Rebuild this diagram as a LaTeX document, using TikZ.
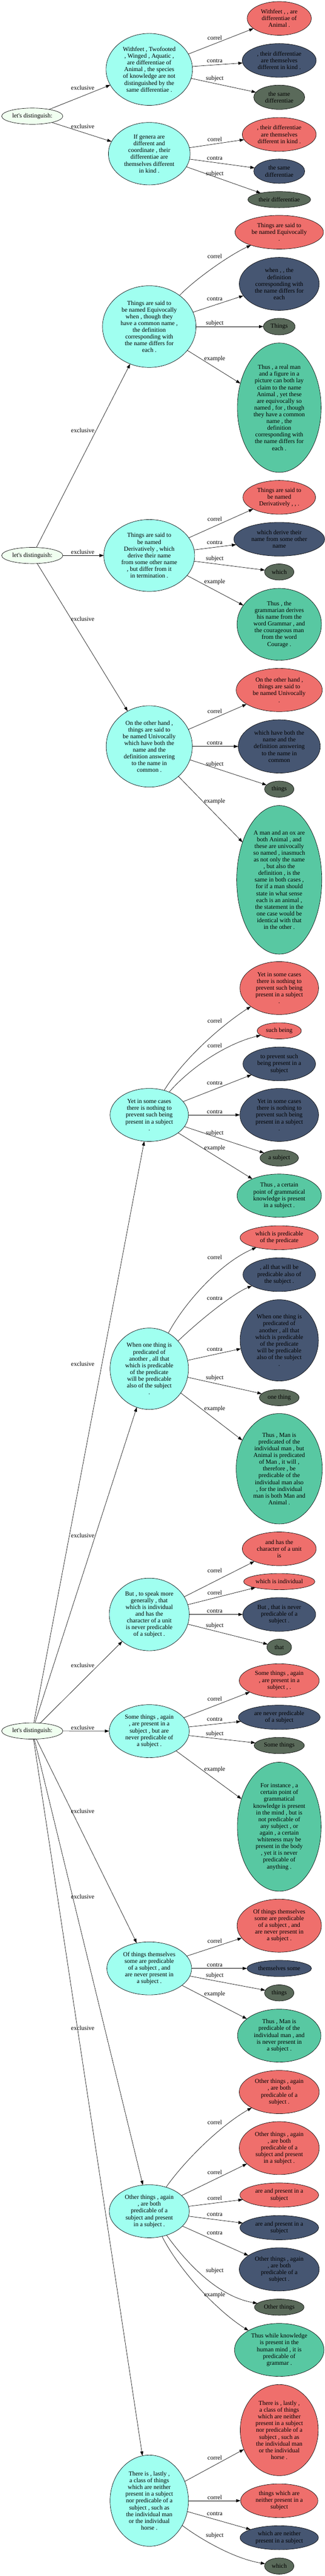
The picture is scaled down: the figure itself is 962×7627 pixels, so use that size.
\documentclass[tikz,border=0pt]{standalone}
\usepackage{fontspec}
\setmainfont{Liberation Serif}[Ligatures=TeXOff]
\usetikzlibrary{shapes.geometric,arrows.meta}
\definecolor{rootc}{HTML}{F0FFF0}
\definecolor{mainc}{HTML}{A0FFF0}
\definecolor{corrc}{HTML}{EF6F6C}
\definecolor{contrc}{HTML}{465672}
\definecolor{subjc}{HTML}{5A6A5A}
\definecolor{exmpc}{HTML}{58C8A2}
\newcommand{\nodefont}{\fontsize{18.3}{20}\selectfont}
\tikzset{
  base/.style={ellipse, draw=black, line width=1pt, inner sep=0pt, outer sep=0pt, align=center, font=\nodefont},
  rootn/.style={base, fill=rootc},
  mainn/.style={base, fill=mainc},
  corrn/.style={base, fill=corrc},
  contrn/.style={base, fill=contrc},
  subjn/.style={base, fill=subjc},
  exmpn/.style={base, fill=exmpc},
  wh/.style 2 args={minimum width=#1pt, minimum height=#2pt},
  edge/.style={draw=black, line width=1pt, -{Triangle[length=13pt,width=9pt]}},
  elab/.style={font=\nodefont, inner sep=0pt}
}
\begin{document}
\begin{tikzpicture}[x=1pt,y=-1pt]
\fill[white] (0,0) rectangle (962,7627);
\useasboundingbox (0,0) rectangle (962,7627);

% ---------------- Graph 1 ----------------
\node[rootn, wh={181}{48}] (root1) at (95.6,344) {let's distinguish:};
\node[mainn, wh={256}{213}] (A1) at (442,205.5) {Withfeet , Twofooted\\, Winged , Aquatic ,\\are differentiae of\\Animal , the species\\of knowledge are not\\distinguished by the\\same differentiae .};
\node[corrn, wh={190}{100}] (RA1) at (827,54.5) {Withfeet , , are\\differentiae of\\Animal .};
\node[contrn, wh={219}{100}] (UA1) at (827,179) {, their differentiae\\are themselves\\different in kind .};
\node[subjn, wh={151}{72}] (SA1) at (827,288) {the same\\differentiae};
\node[mainn, wh={242}{185}] (A2) at (442,455) {If genera are\\different and\\coordinate , their\\differentiae are\\themselves different\\in kind .};
\node[corrn, wh={219}{100}] (RA2) at (827,398) {, their differentiae\\are themselves\\different in kind .};
\node[contrn, wh={151}{72}] (UA2) at (827,507) {the same\\differentiae};
\node[subjn, wh={186}{48}] (SA2) at (827,591) {their differentiae};

\draw[edge] (root1) -- (A1) node[elab] at (245,260) {exclusive};
\draw[edge] (root1) -- (A2) node[elab] at (245,374) {exclusive};
\draw[edge] (A1) -- (RA1) node[elab] at (636,111.6) {correl};
\draw[edge] (A1) -- (UA1) node[elab] at (636,181) {contra};
\draw[edge] (A1) -- (SA1) node[elab] at (636,232.6) {subject};
\draw[edge] (A2) -- (RA2) node[elab] at (636,413) {correl};
\draw[edge] (A2) -- (UA2) node[elab] at (636,469) {contra};
\draw[edge] (A2) -- (SA2) node[elab] at (636,515.6) {subject};

% ---------------- Graph 2 ----------------
\node[rootn, wh={181}{48}] (root2) at (95.6,1644.7) {let's distinguish:};
\node[mainn, wh={277}{242}] (B1) at (442,967) {Things are said to\\be named Equivocally\\when , though they\\have a common name ,\\the definition\\corresponding with\\the name differs for\\each .};
\node[corrn, wh={262}{100}] (RB1) at (827,687.5) {Things are said to\\be named Equivocally\\.};
\node[contrn, wh={237}{157}] (UB1) at (827,840.5) {when , , the\\definition\\corresponding with\\the name differs for\\each};
\node[subjn, wh={94}{49}] (SB1) at (827,967) {Things};
\node[exmpn, wh={248}{383}] (EB1) at (827,1207) {Thus , a real man\\and a figure in a\\picture can both lay\\claim to the name\\Animal , yet these\\are equivocally so\\named , for , though\\they have a common\\name , the\\definition\\corresponding with\\the name differs for\\each .};
\node[mainn, wh={269}{213}] (B2) at (442,1644.7) {Things are said to\\be named\\Derivatively , which\\derive their name\\from some other name\\, but differ from it\\in termination .};
\node[corrn, wh={215}{100}] (RB2) at (827,1472.5) {Things are said to\\be named\\Derivatively , , .};
\node[contrn, wh={269}{100}] (UB2) at (827,1596.5) {which derive their\\name from some other\\name};
\node[subjn, wh={87}{48}] (SB2) at (827,1693.5) {which};
\node[exmpn, wh={250}{213}] (EB2) at (827,1848.5) {Thus , the\\grammarian derives\\his name from the\\word Grammar , and\\the courageous man\\from the word\\Courage .};
\node[mainn, wh={255}{241}] (B3) at (442,2210) {On the other hand ,\\things are said to\\be named Univocally\\which have both the\\name and the\\definition answering\\to the name in\\common .};
\node[corrn, wh={255}{128}] (RB3) at (827,2043) {On the other hand ,\\things are said to\\be named Univocally\\.};
\node[contrn, wh={243}{158}] (UB3) at (827,2210) {which have both the\\name and the\\definition answering\\to the name in\\common};
\node[subjn, wh={87}{48}] (SB3) at (827,2336.5) {things};
\node[exmpn, wh={252}{440}] (EB3) at (827,2605) {A man and an ox are\\both Animal , and\\these are univocally\\so named , inasmuch\\as not only the name\\, but also the\\definition , is the\\same in both cases ,\\for if a man should\\state in what sense\\each is an animal ,\\the statement in the\\one case would be\\identical with that\\in the other .};

\draw[edge] (root2) -- (B1) node[elab] at (245,1274.6) {exclusive};
\draw[edge] (root2) -- (B2) node[elab] at (245,1634.4) {exclusive};
\draw[edge] (root2) -- (B3) node[elab] at (245,1832.4) {exclusive};
\draw[edge] (B1) .. controls (580,825) and (680,755) .. (RB1) node[elab] at (636,759) {correl};
\draw[edge] (B1) -- (UB1) node[elab] at (636,885) {contra};
\draw[edge] (B1) -- (SB1) node[elab] at (636,956.6) {subject};
\draw[edge] (B1) -- (EB1) node[elab] at (636,1062.8) {example};
\draw[edge] (B2) -- (RB2) node[elab] at (636,1536) {correl};
\draw[edge] (B2) -- (UB2) node[elab] at (636,1606) {contra};
\draw[edge] (B2) -- (SB2) node[elab] at (636,1655) {subject};
\draw[edge] (B2) -- (EB2) node[elab] at (636,1723) {example};
\draw[edge] (B3) -- (RB3) node[elab] at (636,2105.7) {correl};
\draw[edge] (B3) -- (UB3) node[elab] at (636,2200) {contra};
\draw[edge] (B3) -- (SB3) node[elab] at (636,2263) {subject};
\draw[edge] (B3) -- (EB3) node[elab] at (636,2372.6) {example};

% ---------------- Graph 3 ----------------
\node[rootn, wh={181}{48}] (root3) at (95.6,5125) {let's distinguish:};

% C1
\node[mainn, wh={232}{157}] (C1) at (442,3301) {Yet in some cases\\there is nothing to\\prevent such being\\present in a subject\\.};
\node[corrn, wh={233}{157}] (R1C1) at (827,2925.5) {Yet in some cases\\there is nothing to\\prevent such being\\present in a subject\\.};
\node[corrn, wh={131}{48}] (R2C1) at (827,3052) {such being};
\node[contrn, wh={215}{100}] (U1C1) at (827,3150) {to prevent such\\being present in a\\subject};
\node[contrn, wh={233}{157}] (U2C1) at (827,3301) {Yet in some cases\\there is nothing to\\prevent such being\\present in a subject\\.};
\node[subjn, wh={114}{48}] (SC1) at (827,3428.5) {a subject};
\node[exmpn, wh={250}{128}] (EC1) at (827,3540) {Thus , a certain\\point of grammatical\\knowledge is present\\in a subject .};

% C2
\node[mainn, wh={232}{241}] (C2) at (442,4052.5) {When one thing is\\predicated of\\another , all that\\which is predicable\\of the predicate\\will be predicable\\also of the subject\\.};
\node[corrn, wh={232}{71}] (RC2) at (827,3664.5) {which is predicable\\of the predicate};
\node[contrn, wh={215}{100}] (U1C2) at (827,3774) {, all that will be\\predicable also of\\the subject .};
\node[contrn, wh={232}{241}] (U2C2) at (827,3968.5) {When one thing is\\predicated of\\another , all that\\which is predicable\\of the predicate\\will be predicable\\also of the subject\\.};
\node[subjn, wh={118}{48}] (SC2) at (827,4138) {one thing};
\node[exmpn, wh={255}{327}] (EC2) at (827,4348.5) {Thus , Man is\\predicated of the\\individual man , but\\Animal is predicated\\of Man , it will ,\\therefore , be\\predicable of the\\individual man also\\, for the individual\\man is both Man and\\Animal .};

% C3
\node[mainn, wh={237}{215}] (C3) at (442,4780) {But , to speak more\\generally , that\\which is individual\\and has the\\character of a unit\\is never predicable\\of a subject .};
\node[corrn, wh={219}{100}] (R1C3) at (827,4585.7) {and has the\\character of a unit\\is};
\node[corrn, wh={211}{48}] (R2C3) at (827,4682.7) {which is individual};
\node[contrn, wh={216}{100}] (UC3) at (827,4780) {But , that is never\\predicable of a\\subject .};
\node[subjn, wh={73}{48}] (SC3) at (827,4877) {that};

% C4
\node[mainn, wh={237}{157}] (C4) at (442,5125.5) {Some things , again\\, are present in a\\subject , but are\\never predicable of\\a subject .};
\node[corrn, wh={237}{100}] (RC4) at (827,4976) {Some things , again\\, are present in a\\subject , .};
\node[contrn, wh={242}{72}] (UC4) at (827,5084.5) {are never predicable\\of a subject};
\node[subjn, wh={149}{48}] (SC4) at (827,5168) {Some things};
\node[exmpn, wh={248}{382}] (EC4) at (827,5408.5) {For instance , a\\certain point of\\grammatical\\knowledge is present\\in the mind , but is\\not predicable of\\any subject , or\\again , a certain\\whiteness may be\\present in the body\\, yet it is never\\predicable of\\anything .};

% C5
\node[mainn, wh={251}{157}] (C5) at (442,5828) {Of things themselves\\some are predicable\\of a subject , and\\are never present in\\a subject .};
\node[corrn, wh={250}{157}] (RC5) at (827,5701.5) {Of things themselves\\some are predicable\\of a subject , and\\are never present in\\a subject .};
\node[contrn, wh={191}{48}] (UC5) at (827,5828) {themselves some};
\node[subjn, wh={87}{48}] (SC5) at (827,5900.5) {things};
\node[exmpn, wh={247}{157}] (EC5) at (827,6027) {Thus , Man is\\predicable of the\\individual man , and\\is never present in\\a subject .};

% C6
\node[mainn, wh={237}{157}] (C6) at (442,6547) {Other things , again\\, are both\\predicable of a\\subject and present\\in a subject .};
\node[corrn, wh={237}{128}] (R1C6) at (827,6194) {Other things , again\\, are both\\predicable of a\\subject .};
\node[corrn, wh={237}{157}] (R2C6) at (827,6360) {Other things , again\\, are both\\predicable of a\\subject and present\\in a subject .};
\node[corrn, wh={233}{72}] (R3C6) at (827,6499) {are and present in a\\subject};
\node[contrn, wh={233}{72}] (U1C6) at (827,6595.6) {are and present in a\\subject};
\node[contrn, wh={237}{128}] (U2C6) at (827,6719) {Other things , again\\, are both\\predicable of a\\subject .};
\node[subjn, wh={147}{48}] (SC6) at (827,6831) {Other things};
\node[exmpn, wh={265}{157}] (EC6) at (827,6957.5) {Thus while knowledge\\is present in the\\human mind , it is\\predicable of\\grammar .};

% C7
\node[mainn, wh={232}{270}] (C7) at (442,7404) {There is , lastly ,\\a class of things\\which are neither\\present in a subject\\nor predicable of a\\subject , such as\\the individual man\\or the individual\\horse .};
\node[corrn, wh={231}{270}] (R1C7) at (827,7195) {There is , lastly ,\\a class of things\\which are neither\\present in a subject\\nor predicable of a\\subject , such as\\the individual man\\or the individual\\horse .};
\node[corrn, wh={229}{100}] (R2C7) at (827,7404) {things which are\\neither present in a\\subject};
\node[contrn, wh={232}{71}] (UC7) at (827,7513.5) {which are neither\\present in a subject};
\node[subjn, wh={87}{48}] (SC7) at (827,7597.5) {which};

% root3 edges
\draw[edge] (root3) -- (C1) node[elab] at (245,4038) {exclusive};
\draw[edge] (root3) -- (C2) node[elab] at (245,4546) {exclusive};
\draw[edge] (root3) -- (C3) node[elab] at (245,4931) {exclusive};
\draw[edge] (root3) -- (C4) node[elab] at (245,5115) {exclusive};
\draw[edge] (root3) -- (C5) node[elab] at (245,5362) {exclusive};
\draw[edge] (root3) -- (C6) node[elab] at (245,5616) {exclusive};
\draw[edge] (root3) -- (C7) node[elab] at (245,6004) {exclusive};

% C1 edges
\draw[edge] (C1) .. controls (540,3140) and (650,3040) .. (R1C1) node[elab] at (636,3022) {correl};
\draw[edge] (C1) .. controls (565,3160) and (670,3090) .. (R2C1) node[elab] at (636,3095.7) {correl};
\draw[edge] (C1) -- (U1C1) node[elab] at (636,3206.6) {contra};
\draw[edge] (C1) -- (U2C1) node[elab] at (636,3291.5) {contra};
\draw[edge] (C1) -- (SC1) node[elab] at (636,3354.5) {subject};
\draw[edge] (C1) -- (EC1) node[elab] at (636,3400) {example};

% C2 edges
\draw[edge] (C2) .. controls (545,3860) and (650,3740) .. (RC2) node[elab] at (636,3722.5) {correl};
\draw[edge] (C2) .. controls (590,3910) and (690,3830) .. (U1C2) node[elab] at (636,3844.7) {contra};
\draw[edge] (C2) -- (U2C2) node[elab] at (636,3994.5) {contra};
\draw[edge] (C2) -- (SC2) node[elab] at (636,4079.5) {subject};
\draw[edge] (C2) -- (EC2) node[elab] at (636,4171.8) {example};

% C3 edges
\draw[edge] (C3) -- (R1C3) node[elab] at (636,4650) {correl};
\draw[edge] (C3) -- (R2C3) node[elab] at (636,4715.4) {correl};
\draw[edge] (C3) -- (UC3) node[elab] at (636,4770.5) {contra};
\draw[edge] (C3) -- (SC3) node[elab] at (636,4813) {subject};

% C4 edges
\draw[edge] (C4) -- (RC4) node[elab] at (636,5030) {correl};
\draw[edge] (C4) -- (UC4) node[elab] at (636,5091) {contra};
\draw[edge] (C4) -- (SC4) node[elab] at (636,5134) {subject};
\draw[edge] (C4) -- (EC4) node[elab] at (636,5239) {example};

% C5 edges
\draw[edge] (C5) -- (RC5) node[elab] at (636,5746) {correl};
\draw[edge] (C5) -- (UC5) node[elab] at (636,5818.5) {contra};
\draw[edge] (C5) -- (SC5) node[elab] at (636,5848.8) {subject};
\draw[edge] (C5) -- (EC5) node[elab] at (636,5904.5) {example};

% C6 edges
\draw[edge] (C6) .. controls (545,6400) and (650,6295) .. (R1C6) node[elab] at (636,6284) {correl};
\draw[edge] (C6) -- (R2C6) node[elab] at (636,6431.5) {correl};
\draw[edge] (C6) -- (R3C6) node[elab] at (636,6508.4) {correl};
\draw[edge] (C6) -- (U1C6) node[elab] at (636,6556.6) {contra};
\draw[edge] (C6) -- (U2C6) node[elab] at (636,6611) {contra};
\draw[edge] (C6) .. controls (560,6710) and (650,6800) .. (SC6) node[elab] at (636,6723) {subject};
\draw[edge] (C6) .. controls (530,6720) and (640,6840) .. (EC6) node[elab] at (636,6794.5) {example};

% C7 edges
\draw[edge] (C7) -- (R1C7) node[elab] at (636,7276) {correl};
\draw[edge] (C7) -- (R2C7) node[elab] at (636,7394.5) {correl};
\draw[edge] (C7) -- (UC7) node[elab] at (636,7442.5) {contra};
\draw[edge] (C7) .. controls (590,7515) and (690,7575) .. (SC7) node[elab] at (636,7506.7) {subject};
\end{tikzpicture}
\end{document}
